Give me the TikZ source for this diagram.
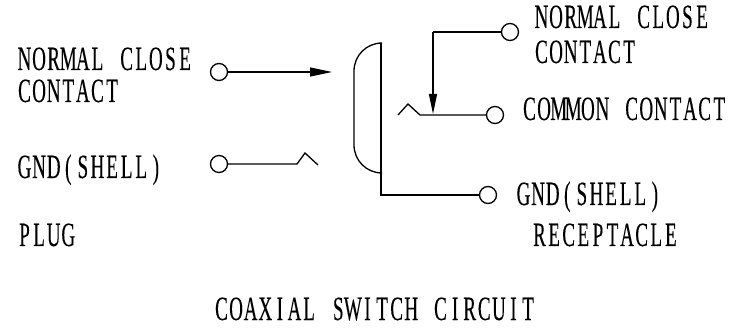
\documentclass[tikz,border=0pt]{standalone}
\usepackage{fontspec}
\setmainfont{Liberation Serif}[FakeStretch=0.56,FakeBold=0.2]
\usetikzlibrary{arrows.meta}
\newlength\monow
\setlength\monow{14.6pt}
\ExplSyntaxOn
\NewDocumentCommand\mono{m}{\str_map_inline:nn{#1}{\makebox[\monow][c]{##1}}}
\ExplSyntaxOff
\begin{document}
\begin{tikzpicture}[x=1pt,y=-1pt,
  wire/.style={line width=1.3pt},
  term/.style={circle,draw,line width=1.3pt,minimum size=17pt,inner sep=0pt},
  lbl/.style={anchor=base west,inner sep=0pt,font=\fontsize{34}{34}\selectfont},
  tip/.style={-{Triangle[length=22pt,width=9pt]}}]
\useasboundingbox (0,0) rectangle (732,334);
% labels
\node[lbl] (l1) at (17,70) {\mono{NORMAL CLOSE}};
\node[lbl] (l2) at (17,102) {\mono{CONTACT}};
\node[lbl] (l3) at (17,178) {\mono{GND(SHELL)}};
\node[lbl] (l4) at (17,246) {\mono{PLUG}};
\node[lbl] (r1) at (534,28) {\mono{NORMAL CLOSE}};
\node[lbl] (r2) at (534,63) {\mono{CONTACT}};
\node[lbl] (r3) at (522,120) {\mono{COMMON CONTACT}};
\node[lbl] (r4) at (516,205) {\mono{GND(SHELL)}};
\node[lbl] (r5) at (532,246) {\mono{RECEPTACLE}};
\node[lbl] (t) at (214,320) {\mono{COAXIAL SWITCH CIRCUIT}};
% terminals
\node[term] (pnc) at (219,72) {};
\node[term] (pgnd) at (219,164) {};
\node[term] (rnc) at (510,32) {};
\node[term] (rcom) at (495,115) {};
\node[term] (rgnd) at (488,195) {};
% plug
\coordinate (ptip) at (332,72);
\draw[wire,tip] (pnc.east) -- (ptip);
\coordinate (pz1) at (297,164);
\coordinate (pz2) at (305,153);
\coordinate (pz3) at (318,165);
\draw[wire] (pgnd.east) -- (pz1) -- (pz2) -- (pz3);
% receptacle shell
\coordinate (st) at (381,43);
\coordinate (sb) at (381,173);
\coordinate (sg) at (381,195);
\draw[wire,rounded corners=28pt] (st) -- (354,43) -- (354,173) -- (sb);
\draw[wire] (st) -- (sg) -- (rgnd.west);
% receptacle contacts
\coordinate (nc1) at (433,32);
\coordinate (nct) at (433,114);
\draw[wire] (rnc.west) -- (nc1);
\draw[wire,-{Triangle[length=20pt,width=8pt]}] (nc1) -- (nct);
\coordinate (cz1) at (398,115);
\coordinate (cz2) at (408,104);
\coordinate (cz3) at (420,115);
\draw[wire] (cz1) -- (cz2) -- (cz3) -- (rcom.west);
\end{tikzpicture}
\end{document}
